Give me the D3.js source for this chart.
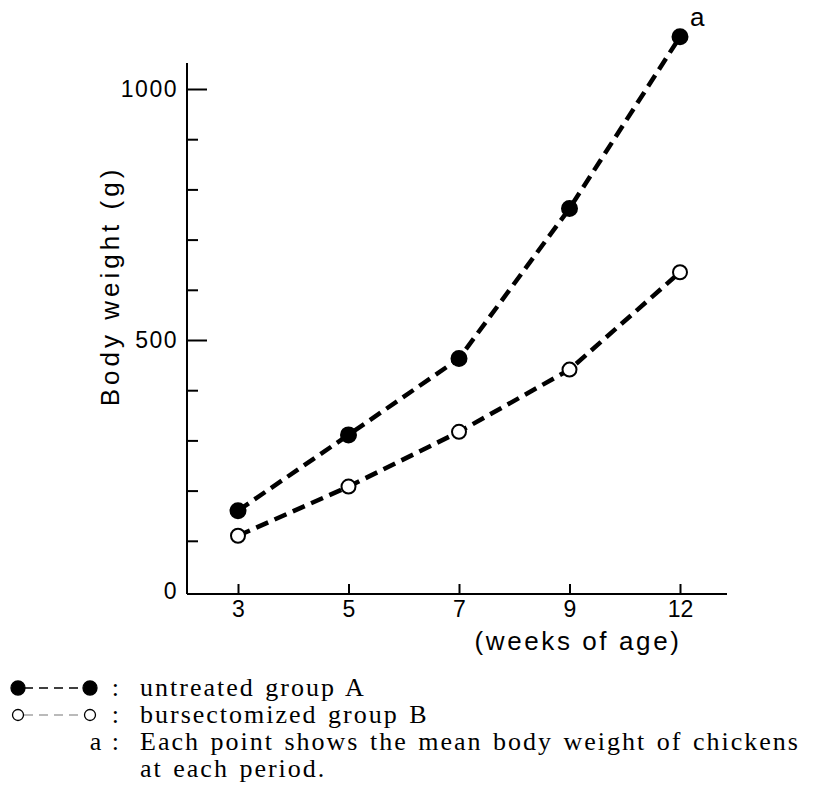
<head>
<meta charset="utf-8">
<style>
  body { margin: 0; background: #fff; }
  .sans { font-family: "Liberation Sans", Arial, sans-serif; }
  .serif { font-family: "Liberation Serif", "Times New Roman", serif; }
</style>
<script src="https://d3js.org/d3.v7.min.js"></script>
</head>
<body>
<div id="chart"></div>
<script>
// data
const weeks = ["3", "5", "7", "9", "12"];
const groupA = [160, 311, 463, 762, 1104];   // untreated
const groupB = [110, 208, 317, 441, 635];    // bursectomized
const majorTicks = [0, 500, 1000];
const minorTicks = [100, 200, 300, 400, 600, 700, 800, 900];
const legendLines = [
  {mark: "filled", key: ":", text: "untreated group A"},
  {mark: "open", key: ":", text: "bursectomized group B"},
  {mark: "none", key: "a :", text: "Each point shows the mean body weight of chickens"},
  {mark: "none", key: "", text: "at each period."}
];

const width = 826, height = 785;
const svg = d3.select("#chart").append("svg")
    .attr("width", width).attr("height", height);

const x = d3.scalePoint().domain(weeks).range([238, 680]);
const y = d3.scaleLinear().domain([0, 1000]).range([591, 89]);
const axisX0 = 187, axisY0 = 594;

// axis lines
svg.append("line").attr("x1", axisX0).attr("x2", axisX0).attr("y1", 63).attr("y2", axisY0)
    .attr("stroke", "#000").attr("stroke-width", 2);
svg.append("line").attr("x1", axisX0).attr("x2", 727).attr("y1", axisY0).attr("y2", axisY0)
    .attr("stroke", "#000").attr("stroke-width", 2);

// y axis, major + minor ticks
const yMajor = svg.append("g").attr("class", "sans").attr("transform", `translate(${axisX0},0)`)
    .call(d3.axisLeft(y).tickValues(majorTicks).tickSize(-20).tickPadding(9).tickFormat(d3.format("d")));
yMajor.select(".domain").remove();
yMajor.selectAll(".tick line").attr("stroke-width", 2).filter(d => d === 0).remove();
yMajor.selectAll("text").attr("font-size", 23).attr("letter-spacing", 1.5).attr("fill", "#000");

const yMinor = svg.append("g").attr("transform", `translate(${axisX0},0)`)
    .call(d3.axisLeft(y).tickValues(minorTicks).tickSize(-11).tickFormat(""));
yMinor.select(".domain").remove();
yMinor.selectAll(".tick line").attr("stroke-width", 2);

// x axis
const xAxis = svg.append("g").attr("class", "sans").attr("transform", `translate(0,${axisY0})`)
    .call(d3.axisBottom(x).tickSize(-10).tickPadding(7));
xAxis.select(".domain").remove();
xAxis.selectAll(".tick line").attr("stroke-width", 2);
xAxis.selectAll("text").attr("font-size", 23).attr("fill", "#000");

// axis titles
svg.append("text").attr("class", "sans")
    .attr("transform", "translate(119,286) rotate(-90)")
    .attr("text-anchor", "middle").attr("font-size", 26).attr("letter-spacing", 4)
    .text("Body weight (g)");
svg.append("text").attr("class", "sans")
    .attr("x", 578).attr("y", 650).attr("text-anchor", "middle")
    .attr("font-size", 26).attr("letter-spacing", 2.6)
    .text("(weeks of age)");

// series
const line = d3.line().x(d => x(d.w)).y(d => y(d.v));
const series = [
  {vals: groupA, fill: "#000"},
  {vals: groupB, fill: "#fff"}
];
series.forEach(s => {
  const pts = weeks.map((w, i) => ({w: w, v: s.vals[i]}));
  svg.append("path").datum(pts).attr("d", line)
      .attr("fill", "none").attr("stroke", "#000")
      .attr("stroke-width", 4.5).attr("stroke-dasharray", "13,7");
  svg.selectAll(null).data(pts).enter().append("circle")
      .attr("cx", d => x(d.w)).attr("cy", d => y(d.v))
      .attr("r", s.fill === "#000" ? 7.5 : 7)
      .attr("fill", s.fill).attr("stroke", "#000").attr("stroke-width", 2);
});

// footnote marker
svg.append("text").attr("class", "sans")
    .attr("x", x("12") + 10).attr("y", 26)
    .attr("font-size", 26).text("a");

// legend
const lg = svg.append("g");
legendLines.forEach((d, i) => {
  const ly = 688 + i * 27;
  if (d.mark !== "none") {
    const filled = d.mark === "filled";
    const r = filled ? 7 : 5.5;
    lg.append("line").attr("x1", 18).attr("x2", 90).attr("y1", ly).attr("y2", ly)
        .attr("stroke", filled ? "#000" : "#777").attr("stroke-width", filled ? 1.5 : 1.2)
        .attr("stroke-dasharray", "9,6").attr("stroke-dashoffset", -6);
    [18, 90].forEach(cx => lg.append("circle").attr("cx", cx).attr("cy", ly).attr("r", r)
        .attr("fill", filled ? "#000" : "#fff").attr("stroke", "#000").attr("stroke-width", 1.3));
  }
  lg.append("text").attr("class", "serif").attr("x", 121).attr("y", ly + 8)
      .attr("text-anchor", "end").attr("font-size", 26).attr("letter-spacing", 2).text(d.key);
  lg.append("text").attr("class", "serif").attr("x", 140).attr("y", ly + 8)
      .attr("font-size", 26).attr("letter-spacing", 2).attr("word-spacing", 2).text(d.text);
});
</script>
</body>
